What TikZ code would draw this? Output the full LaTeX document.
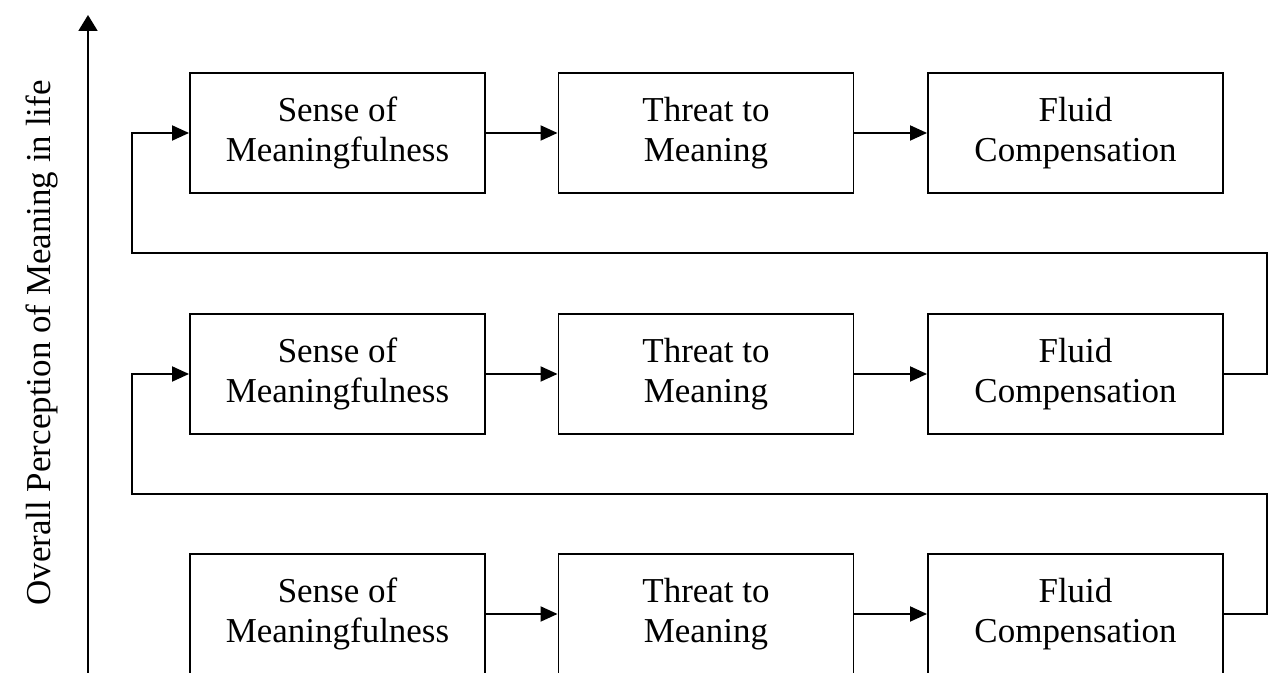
\documentclass[tikz,border=0pt]{standalone}
\usepackage{fontspec}
\setmainfont{Liberation Serif}
\usetikzlibrary{arrows.meta, positioning}
\tikzstyle{stage}=[rectangle, draw, line width=1.1pt, minimum width=5.9cm, minimum height=2.4cm, align=center, inner sep=2pt, font=\fontsize{19.9}{23}\selectfont]
\tikzstyle{flow}=[line width=1.1pt, -{Triangle[length=0.34cm, width=0.3cm]}]

\begin{document}
\begin{tikzpicture}
\useasboundingbox (0,0) rectangle (25.54,13.46);

% three rounds of the cycle, newest on top
\node[stage] (s1) at (6.75,10.8) {Sense of\\Meaningfulness};
\node[stage] (t1) at (14.12,10.8) {Threat to\\Meaning};
\node[stage] (f1) at (21.51,10.8) {Fluid\\Compensation};
\node[stage] (s2) at (6.75,5.98) {Sense of\\Meaningfulness};
\node[stage] (t2) at (14.12,5.98) {Threat to\\Meaning};
\node[stage] (f2) at (21.51,5.98) {Fluid\\Compensation};
\node[stage] (s3) at (6.75,1.18) {Sense of\\Meaningfulness};
\node[stage] (t3) at (14.12,1.18) {Threat to\\Meaning};
\node[stage] (f3) at (21.51,1.18) {Fluid\\Compensation};

\draw[flow] (s1) -- (t1);\draw[flow] (t1) -- (f1);
\draw[flow] (s2) -- (t2);\draw[flow] (t2) -- (f2);
\draw[flow] (s3) -- (t3);\draw[flow] (t3) -- (f3);

% loops back to the next round
\coordinate (r1) at (25.34,8.4);\coordinate (l1) at (2.64,8.4);
\coordinate (r2) at (25.34,3.58);\coordinate (l2) at (2.64,3.58);
\draw[flow] (f2.east) -| (r1) -- (l1) |- (s1.west);
\draw[flow] (f3.east) -| (r2) -- (l2) |- (s2.west);

% axis
\coordinate (ax0) at (1.76,0);\coordinate (ax1) at (1.76,13.16);
\draw[line width=1.1pt, -{Triangle[length=0.32cm, width=0.38cm]}] (ax0) -- (ax1);
\node[rotate=90, font=\fontsize{19.9}{23}\selectfont] (axlabel) at (0.84,6.6) {Overall Perception of Meaning in life};
\end{tikzpicture}
\end{document}
